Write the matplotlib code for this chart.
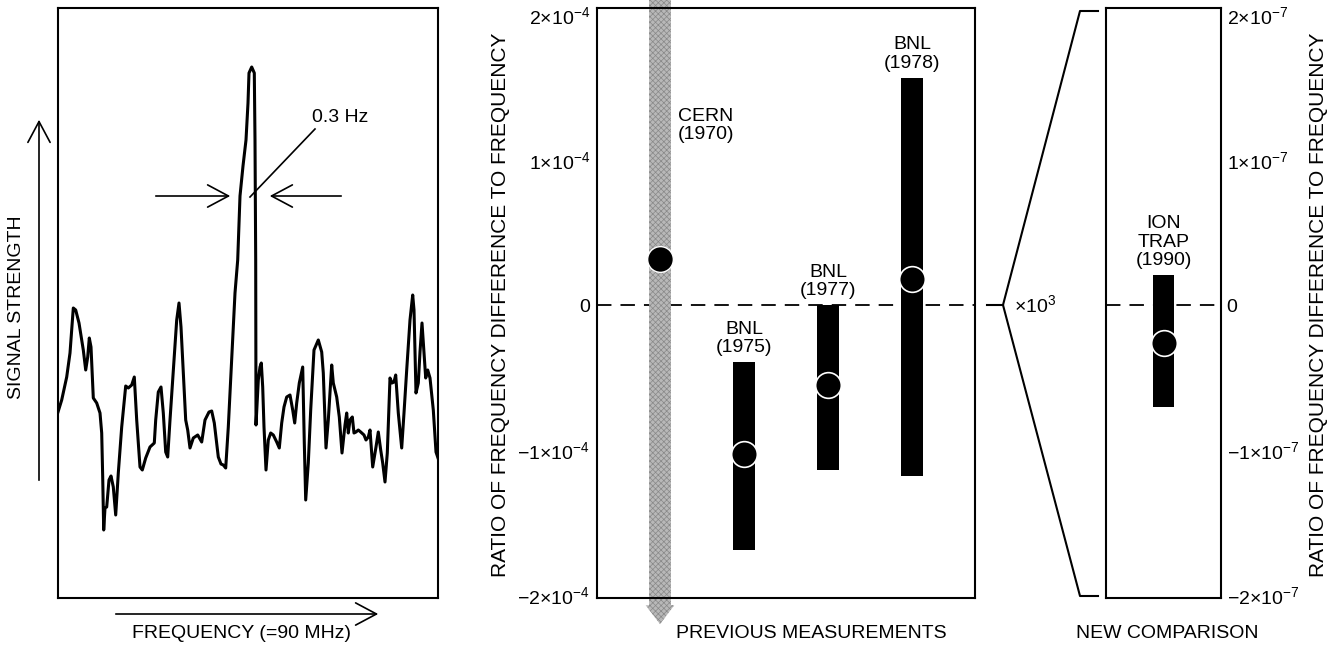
import matplotlib.pyplot as plt
from matplotlib.patches import Polygon, FancyArrowPatch
from matplotlib.lines import Line2D

plt.rcParams['font.family'] = ['Liberation Sans', 'DejaVu Sans']
plt.rcParams['mathtext.fontset'] = 'custom'
plt.rcParams['mathtext.rm'] = 'Liberation Sans'
plt.rcParams['mathtext.default'] = 'regular'
plt.rcParams['hatch.linewidth'] = 0.5

# resonance spectrum, arbitrary units
freq = [0, 3.7, 8.7, 12, 15.3, 17.7, 21, 25.3, 27.7, 29.7, 31.3, 33, 35.3, 38.7, 42,
        43.7, 44.7, 45.7, 47, 48.7, 51, 53, 55.3, 57.7, 60.3, 63.7, 67.7, 70.3, 73.7,
        76.3, 78.7, 82, 84.3, 87.7, 92, 96.3, 97.7, 100.3, 103, 105.3, 107.7, 109.7,
        112, 115.3, 118.7, 121, 123, 125.3, 127.7, 129.7, 132, 135.3, 139.7, 143.7,
        147, 151, 153.7, 156.3, 160.3, 163, 165.3, 167.7, 170.3, 173.7, 177, 179.7,
        182, 185, 188, 190, 191, 193.7, 196.3, 197, 197.3, 197.7, 198, 200.3, 202,
        203.3, 204.7, 206, 208, 210.3, 212.7, 215.3, 218.7, 221.3, 223.7, 226, 228.7,
        232, 234.7, 236.7, 238.7, 241.3, 244.7, 246.3, 247.7, 250.3, 252.7, 256,
        260.3, 263.7, 265.3, 268, 270.3, 273.7, 275.3, 278.7, 281.3, 284, 287, 288.7,
        290.3, 292, 294.3, 296, 298, 300.3, 302.7, 306, 308, 310.3, 312, 314.7, 318,
        320.3, 322.7, 324.7, 327, 329.3, 332, 334, 336, 337.7, 340.3, 343.7, 346,
        348.7, 352, 354.7, 356, 358, 360.3, 362, 364, 366, 367.7, 369.7, 372, 375.3,
        378, 380]
signal = [186, 198, 221, 245, 290, 288, 275, 248, 228, 241, 260, 251, 200, 195, 185,
          165, 121, 68, 90, 91, 118, 122, 111, 83, 125, 171, 212, 210, 213,
          221, 178, 131, 128, 140, 151, 155, 178, 206, 211, 185, 146, 141,
          178, 228, 278, 295, 271, 225, 178, 168, 150, 160, 163, 156,
          178, 186, 187, 175, 141, 134, 133, 130, 171, 238, 305, 338,
          402, 432, 458, 495, 525, 531, 525, 458, 402, 338, 173, 218, 231,
          235, 211, 171, 128, 158, 165, 163, 156, 150, 175, 191, 201,
          203, 188, 175, 195, 215, 231, 155, 98, 135, 188, 248,
          258, 246, 225, 150, 178, 233, 215, 201, 181, 145, 173, 185,
          165, 178, 181, 165, 166, 168, 166, 163, 158, 161, 168, 131, 151,
          166, 148, 135, 116, 145, 220, 215, 216, 223, 185, 150, 185,
          228, 278, 303, 288, 205, 215, 246, 275, 245, 220, 228, 220, 188,
          146, 140]

# previous measurements (units of 1e-4)
cern_label = 'CERN\n(1970)'
cern_value = 0.32
cern_low = -2.07     # runs off scale
cern_high = 2.15
bnl_labels = ['BNL\n(1975)', 'BNL\n(1977)', 'BNL\n(1978)']
bnl_value = [-1.03, -0.55, 0.18]
bnl_low = [-1.69, -1.14, -1.18]
bnl_high = [-0.39, 0.0, 1.57]

# new comparison (units of 1e-7)
ion_label = 'ION\nTRAP\n(1990)'
ion_value = -0.26
ion_low = -0.70
ion_high = 0.21

W, H = 1331, 645
FS = 14


def px(x, y):
    return x / W, 1 - y / H


fig = plt.figure(figsize=(W / 100, H / 100), dpi=100)

# ---- left: spectrum ----
ax1 = fig.add_axes([58 / W, 1 - 598 / H, 380 / W, 590 / H])
ax1.plot(freq, signal, color='black', lw=2.2, solid_joinstyle='round')
ax1.set_xlim(0, 380)
ax1.set_ylim(0, 590)
ax1.set_xticks([])
ax1.set_yticks([])
for s in ax1.spines.values():
    s.set_linewidth(1.5)

akw = dict(arrowstyle='->,head_length=0.75,head_width=0.4', color='black', lw=1.2, mutation_scale=20)
ax1.add_patch(FancyArrowPatch((95, 402), (175, 402), **akw))
ax1.add_patch(FancyArrowPatch((286, 402), (209, 402), **akw))
ax1.plot([257, 192], [469, 401], color='black', lw=1.2)
ax1.text(254, 481, '0.3 Hz', fontsize=FS, ha='left', va='center')

fig.add_artist(FancyArrowPatch(px(39, 483), px(39, 117), transform=fig.transFigure, **akw))
fig.add_artist(FancyArrowPatch(px(113, 614), px(381, 614), transform=fig.transFigure, **akw))
fig.text(*px(17, 307), 'SIGNAL STRENGTH', rotation=90, fontsize=FS, ha='center', va='center')
fig.text(*px(242, 634), 'FREQUENCY (=90 MHz)', fontsize=FS, ha='center', va='center')

# ---- middle: previous measurements ----
ax2 = fig.add_axes([597 / W, 1 - 598 / H, 378 / W, 590 / H])
ax2.set_xlim(0, 9)
ax2.set_ylim(-2.02, 2.05)
for s in ax2.spines.values():
    s.set_linewidth(1.5)
ax2.axhline(0, color='black', lw=1.3, dashes=(8, 5), zorder=1)

cx, hw, hh = 1.5, 0.26, 0.34
band = Polygon([(cx - hw, cern_high), (cx + hw, cern_high), (cx + hw, cern_low),
                (cx + hh, cern_low), (cx, cern_low - 0.13), (cx - hh, cern_low),
                (cx - hw, cern_low)],
               closed=True, facecolor='#b8b8b8', edgecolor='#888888', hatch='xxxxxx',
               lw=0, clip_on=False, zorder=2)
ax2.add_patch(band)
ax2.plot([cx], [cern_value], 'o', ms=18.5, mfc='black', mec='white', mew=1.0, zorder=5, clip_on=False)
ax2.text(cx + 0.42, 1.24, cern_label, fontsize=FS, ha='left', va='center', linespacing=1.1)

bnl_pos = [3.5, 5.5, 7.5]
ax2.bar(bnl_pos, [h - l for h, l in zip(bnl_high, bnl_low)], bottom=bnl_low, width=0.52,
        color='black', zorder=3)
ax2.plot(bnl_pos, bnl_value, 'o', ms=18.5, mfc='black', mec='white', mew=1.2, zorder=5, ls='none')
for x, top, lab in zip(bnl_pos, bnl_high, bnl_labels):
    ax2.text(x, top + 0.04, lab, fontsize=FS, ha='center', va='bottom', linespacing=1.1)

ax2.set_xticks([])
ax2.set_yticks([-2, -1, 0, 1, 2])
ax2.set_yticklabels([r'$-2{\times}10^{-4}$', r'$-1{\times}10^{-4}$', '0',
                     r'$1{\times}10^{-4}$', r'$2{\times}10^{-4}$'], fontsize=FS)
ax2.tick_params(axis='y', which='major', length=0, pad=5)
ax2.set_yticks([-1, 1], minor=True)
ax2.tick_params(axis='y', which='minor', direction='in', length=10, width=1.5)
fig.text(*px(500, 305), 'RATIO OF FREQUENCY DIFFERENCE TO FREQUENCY', rotation=90,
         fontsize=15, ha='center', va='center')
fig.text(*px(811, 633), 'PREVIOUS MEASUREMENTS', fontsize=FS, ha='center', va='center')

# ---- bracket x10^3 ----
for xs, ys in [([987, 1003], [305, 305]),
               ([1098, 1080, 1003, 1080, 1098], [11, 11, 305, 596, 596])]:
    fx = [x / W for x in xs]
    fy = [1 - y / H for y in ys]
    fig.add_artist(Line2D(fx, fy, transform=fig.transFigure, color='black', lw=1.5))
fig.text(*px(1014, 305), r'${\times}10^{3}$', fontsize=FS, ha='left', va='center')

# ---- right: new comparison ----
ax3 = fig.add_axes([1106 / W, 1 - 598 / H, 115 / W, 590 / H])
ax3.set_xlim(0, 1)
ax3.set_ylim(-2.02, 2.05)
for s in ax3.spines.values():
    s.set_linewidth(1.5)
ax3.axhline(0, color='black', lw=1.3, dashes=(8, 5), zorder=1)
ax3.bar([0.5], [ion_high - ion_low], bottom=[ion_low], width=0.18, color='black', zorder=3)
ax3.plot([0.5], [ion_value], 'o', ms=18.5, mfc='black', mec='white', mew=1.2, zorder=5)
ax3.text(0.5, ion_high + 0.04, ion_label, fontsize=FS, ha='center', va='bottom', linespacing=1.1)
ax3.set_xticks([])
ax3.yaxis.tick_right()
ax3.set_yticks([-2, -1, 0, 1, 2])
ax3.set_yticklabels([r'$-2{\times}10^{-7}$', r'$-1{\times}10^{-7}$', '0',
                     r'$1{\times}10^{-7}$', r'$2{\times}10^{-7}$'], fontsize=FS)
ax3.tick_params(axis='y', which='major', length=0, pad=4)
ax3.set_yticks([-1, 1], minor=True)
ax3.tick_params(axis='y', which='minor', direction='in', length=10, width=1.5, right=True, left=False)
fig.text(*px(1318, 305), 'RATIO OF FREQUENCY DIFFERENCE TO FREQUENCY', rotation=90,
         fontsize=15, ha='center', va='center')
fig.text(*px(1167, 633), 'NEW COMPARISON', fontsize=FS, ha='center', va='center')

fig.savefig('out.png', dpi=100)
